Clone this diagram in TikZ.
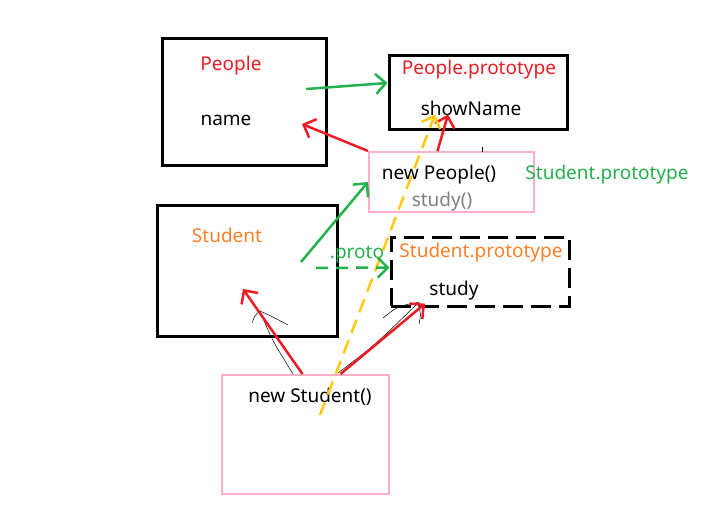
\documentclass[tikz,border=0pt]{standalone}
\usepackage{fontspec}
\setmainfont{Noto Sans}
\usetikzlibrary{arrows.meta}
\definecolor{pred}{RGB}{237,28,36}
\definecolor{pgreen}{RGB}{34,177,76}
\definecolor{porange}{RGB}{255,127,39}
\definecolor{ppink}{RGB}{255,174,201}
\definecolor{pyellow}{RGB}{255,201,14}
\definecolor{pgray}{RGB}{127,127,127}
\tikzset{
	box/.style={draw=black, line width=3pt, inner sep=0pt},
	pinkbox/.style={draw=ppink, line width=2pt, inner sep=0pt},
	dashbox/.style={box, dash pattern=on 20pt off 8pt},
	txt/.style={inner sep=1pt, font=\fontsize{19}{22}\selectfont},
	arr/.style={line width=2.5pt, -{Straight Barb[length=10pt,width=20pt]}},
	scribble/.style={line width=0.5pt, black},
}
\begin{document}
\begin{tikzpicture}[x=1pt,y=-1pt]
	\useasboundingbox (0,0) rectangle (727,506);
	\node[box, minimum width=164pt, minimum height=127pt] (peoplebox) at (244,101.5) {};
	\node[box, minimum width=178pt, minimum height=74pt] (pprotobox) at (478,92) {};
	\node[pinkbox, minimum width=165pt, minimum height=60pt] (newpeoplebox) at (451.5,182) {};
	\node[box, minimum width=180pt, minimum height=131pt] (studentbox) at (247,270.5) {};
	\node[dashbox, minimum width=178pt, minimum height=69pt] (sprotobox) at (480,271.5) {};
	\node[pinkbox, minimum width=167pt, minimum height=119pt] (newstudentbox) at (305.5,434.5) {};

	\node[txt, pred] (people) at (231,65.5) {People};
	\node[txt] (name) at (226,120.5) {name};
	\node[txt, pred] (pproto) at (479,70) {People.prototype};
	\node[txt] (showname) at (471,108) {showName};
	\node[txt] (newpeople) at (439,175) {new People()};
	\node[txt, pgray] (studyfn) at (442,201.5) {study()};
	\node[txt, pgreen] (sprotolabel) at (607,175) {Student.prototype};
	\node[txt, porange] (student) at (227,235) {Student};
	\node[txt, pgreen] (protolabel) at (357,255) {.proto};
	\node[txt, porange] (sproto) at (481,253) {Student.prototype};
	\node[txt] (study) at (454,291) {study};
	\node[txt] (newstudent) at (310,397) {new Student()};

	\coordinate (g1) at (306,89);
	\coordinate (g2) at (301,262);
	\coordinate (g3) at (316,268);
	\coordinate (r1) at (302,124);
	\coordinate (r2) at (243,289);
	\coordinate (y1) at (320,415);

	\draw[scribble] (252,323) .. controls (255,315) .. (260,311) .. controls (275,318) .. (288,325);
	\draw[scribble] (260,311) .. controls (272,340) .. (293,374);
	\draw[scribble] (338,373) .. controls (375,345) .. (418,303);
	\draw[scribble] (383,318) .. controls (398,306) .. (420,302);
	\draw[scribble] (418,304) .. controls (421,314) .. (419,324);
	\draw[scribble] (482,147) -- (482,152);

	\draw[arr, pgreen] (g1) -- ([yshift=9pt]pprotobox.west);
	\draw[arr, pred] (newpeoplebox.north west) -- (r1);
	\draw[arr, pred] ([xshift=-14pt]newpeoplebox.north) -- ([xshift=-23pt,yshift=2pt]showname.south);
	\draw[arr, pyellow, dash pattern=on 14pt off 8pt] (y1) -- ([xshift=-36pt,yshift=2pt]showname.south);
	\draw[arr, pgreen] (g2) -- (newpeoplebox.west);
	\draw[arr, pgreen, dash pattern=on 12pt off 8pt] (g3) -- ([yshift=4pt]sprotobox.west);
	\draw[arr, pred] ([xshift=-3pt]newstudentbox.north) -- (r2);
	\draw[arr, pred] ([xshift=35pt]newstudentbox.north) -- ([xshift=-29pt,yshift=-2pt]study.south);
\end{tikzpicture}
\end{document}
